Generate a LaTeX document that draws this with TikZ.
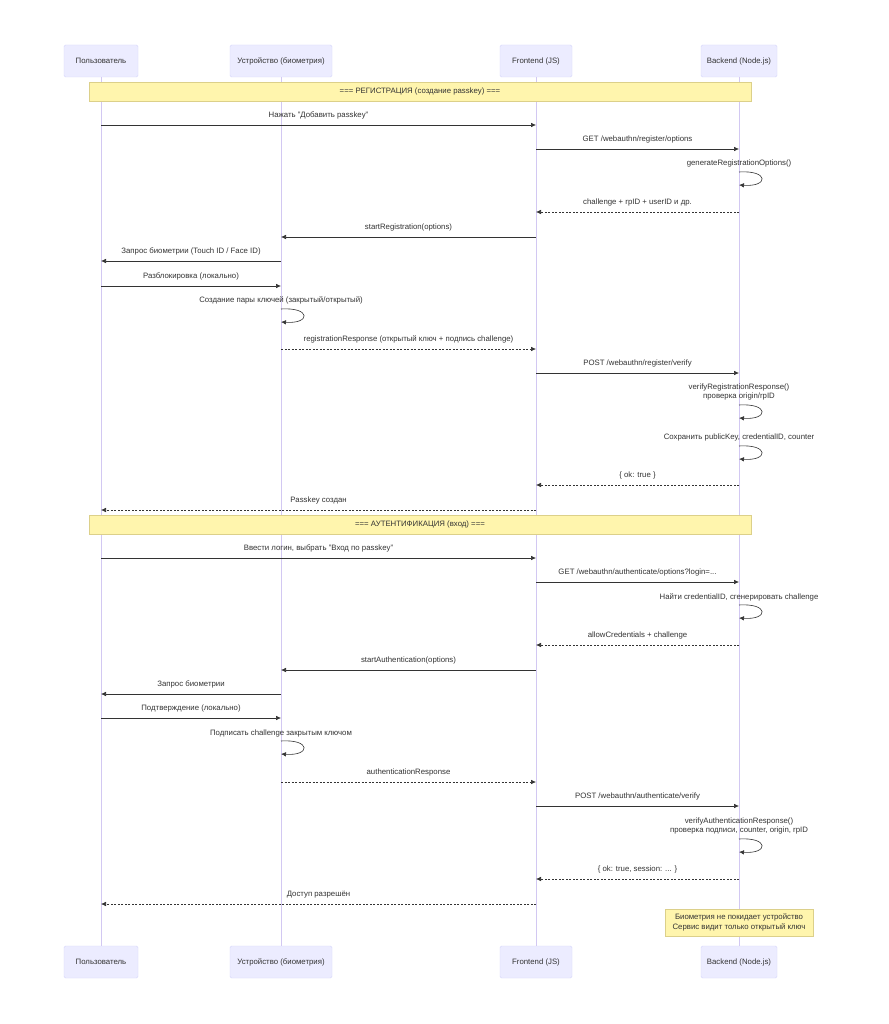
\documentclass[tikz,border=0pt]{standalone}
\usepackage{fontspec}
\setmainfont{Liberation Sans}
\usetikzlibrary{arrows.meta,calc}
\definecolor{actfill}{HTML}{ECECFF}
\definecolor{actdraw}{HTML}{D6D6FA}
\definecolor{life}{HTML}{D2C8F2}
\definecolor{notefill}{HTML}{FFF5AD}
\definecolor{notedraw}{HTML}{DCD08A}
\definecolor{ink}{HTML}{333333}
\begin{document}
\begin{tikzpicture}[x=1pt,y=-1pt,
  every node/.style={font=\fontsize{7.8}{9.6}\selectfont,text=ink},
  actor/.style={draw=actdraw,fill=actfill,rounded corners=1.5pt,minimum height=32pt,inner sep=0pt},
  note/.style={draw=notedraw,fill=notefill,inner sep=0pt,align=center},
  lifeline/.style={draw=life,line width=0.7pt},
  msg/.style={draw=ink,line width=0.6pt,-{Latex[length=5pt,width=4.5pt]}},
  rep/.style={msg,dash pattern=on 2pt off 1.5pt},
  lbl/.style={inner sep=0pt,align=center}]
\useasboundingbox (0,0) rectangle (888,1024);
\fill[white] (0,0) rectangle (888,1024);
% actors
\node[actor,minimum width=74pt] (UT) at (101,61) {Пользователь};
\node[actor,minimum width=102pt] (DT) at (281,61) {Устройство (биометрия)};
\node[actor,minimum width=72pt] (FT) at (536,61) {Frontend (JS)};
\node[actor,minimum width=76pt] (BT) at (739,61) {Backend (Node.js)};
\node[actor,minimum width=74pt] (UB) at (101,962) {Пользователь};
\node[actor,minimum width=102pt] (DB) at (281,962) {Устройство (биометрия)};
\node[actor,minimum width=72pt] (FB) at (536,962) {Frontend (JS)};
\node[actor,minimum width=76pt] (BB) at (739,962) {Backend (Node.js)};
\foreach \a in {U,D,F,B} \draw[lifeline] (\a T.south) -- (\a B.north);
% notes
\node[note,minimum width=662pt,minimum height=19pt] (N1) at (420,91.5) {=== РЕГИСТРАЦИЯ (создание passkey) ===};
\node[note,minimum width=662pt,minimum height=19pt] (N2) at (420,524.5) {=== АУТЕНТИФИКАЦИЯ (вход) ===};
\node[note,minimum width=148pt,minimum height=27pt] (N3) at (739,922.5) {Биометрия не покидает устройство\\Сервис видит только открытый ключ};
% macros
\newcommand{\mymsg}[5]{\draw[#5] (#1 |- 0,#3) -- (#2 |- 0,#3) node[lbl,pos=0.5,above=5.5pt] {#4};}
\newcommand{\myloop}[2]{\draw[msg] (#1 |- 0,#2) .. controls +(30,-2) and +(30,2) .. ($(#1 |- 0,#2)+(0,13)$);}
% registration
\mymsg{UT}{FT}{125}{Нажать "Добавить passkey"}{msg}
\mymsg{FT}{BT}{149}{GET /webauthn/register/options}{msg}
\node[lbl] at (739,163) {generateRegistrationOptions()};
\myloop{BT}{172}
\mymsg{BT}{FT}{212}{challenge + rpID + userID и др.}{rep}
\mymsg{FT}{DT}{237}{startRegistration(options)}{msg}
\mymsg{DT}{UT}{261}{Запрос биометрии (Touch ID / Face ID)}{msg}
\mymsg{UT}{DT}{286}{Разблокировка (локально)}{msg}
\node[lbl] at (281,300) {Создание пары ключей (закрытый/открытый)};
\myloop{DT}{309}
\mymsg{DT}{FT}{349}{registrationResponse (открытый ключ + подпись challenge)}{rep}
\mymsg{FT}{BT}{373}{POST /webauthn/register/verify}{msg}
\node[lbl] at (739,392) {verifyRegistrationResponse()\\проверка origin/rpID};
\myloop{BT}{405}
\node[lbl] at (739,437) {Сохранить publicKey, credentialID, counter};
\myloop{BT}{446}
\mymsg{BT}{FT}{485}{\{ ok: true \}}{rep}
\mymsg{FT}{UT}{510}{Passkey создан}{rep}
% authentication
\mymsg{UT}{FT}{558}{Ввести логин, выбрать "Вход по passkey"}{msg}
\mymsg{FT}{BT}{582}{GET /webauthn/authenticate/options?login=...}{msg}
\node[lbl] at (739,597) {Найти credentialID, сгенерировать challenge};
\myloop{BT}{605}
\mymsg{BT}{FT}{645}{allowCredentials + challenge}{rep}
\mymsg{FT}{DT}{670}{startAuthentication(options)}{msg}
\mymsg{DT}{UT}{694}{Запрос биометрии}{msg}
\mymsg{UT}{DT}{718}{Подтверждение (локально)}{msg}
\node[lbl] at (281,733) {Подписать challenge закрытым ключом};
\myloop{DT}{741}
\mymsg{DT}{FT}{782}{authenticationResponse}{rep}
\mymsg{FT}{BT}{806}{POST /webauthn/authenticate/verify}{msg}
\node[lbl] at (739,826) {verifyAuthenticationResponse()\\проверка подписи, counter, origin, rpID};
\myloop{BT}{839}
\mymsg{BT}{FT}{879}{\{ ok: true, session: ... \}}{rep}
\mymsg{FT}{UT}{904}{Доступ разрешён}{rep}
\end{tikzpicture}
\end{document}
